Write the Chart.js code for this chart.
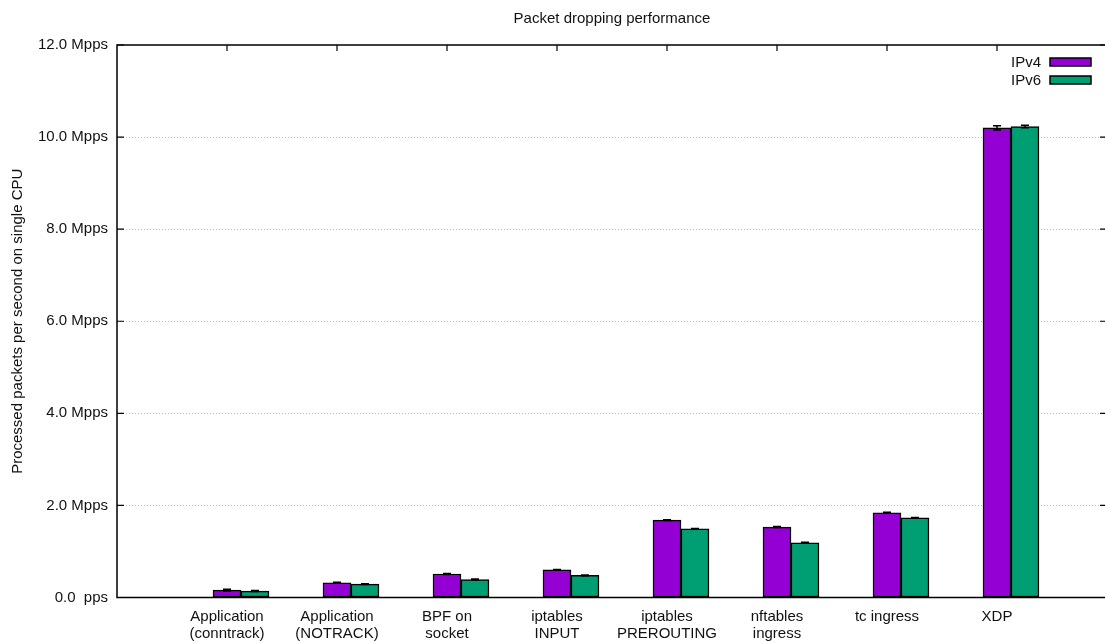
<!DOCTYPE html>
<html>
<head>
<meta charset="utf-8">
<title>Packet dropping performance</title>
<script src="https://cdn.jsdelivr.net/npm/chart.js@4.4.1/dist/chart.umd.min.js"></script>
<style>
  html, body { margin: 0; padding: 0; background: #fff; overflow: hidden; }
  #wrap { width: 1118px; height: 643px; }
</style>
</head>
<body>
<div id="wrap"><canvas id="chart" width="1118" height="643"></canvas></div>
<script>
// ---- data -------------------------------------------------------------
const categories = [
  ['Application', '(conntrack)'],
  ['Application', '(NOTRACK)'],
  ['BPF on', 'socket'],
  ['iptables', 'INPUT'],
  ['iptables', 'PREROUTING'],
  ['nftables', 'ingress'],
  ['tc ingress'],
  ['XDP']
];
const seriesNames = ['IPv4', 'IPv6'];
const ipv4Values = [0.16, 0.32, 0.51, 0.60, 1.68, 1.53, 1.84, 10.20];
const ipv6Values = [0.14, 0.29, 0.39, 0.48, 1.49, 1.19, 1.73, 10.23];
const ipv4Errors = [0.02, 0.01, 0.01, 0.01, 0.01, 0.01, 0.01, 0.045];
const ipv6Errors = [0.01, 0.01, 0.01, 0.01, 0.01, 0.01, 0.01, 0.025];
const yTickLabels = ['0.0  pps', '2.0 Mpps', '4.0 Mpps', '6.0 Mpps', '8.0 Mpps', '10.0 Mpps', '12.0 Mpps'];
const chartTitle = 'Packet dropping performance';
const yAxisTitle = 'Processed packets per second on single CPU';

// ---- style ------------------------------------------------------------
const FONT = '"Liberation Sans", Arial, sans-serif';
const TEXT = '#111';
const COLORS = ['#9400d3', '#009e73'];
const PAIR_SHIFT = 0.2543;   // second bar of a pair sits one bar width to the right
const Y_MAX = 12;
const X_MAX = categories.length + 1;

const slot = categories.map((_, i) => i + 1);
const seriesValues = [ipv4Values, ipv6Values];
const seriesErrors = [ipv4Errors, ipv6Errors];

const datasets = seriesNames.map((name, s) => ({
  label: name,
  data: slot.map((p, i) => ({ x: p + s * PAIR_SHIFT, y: seriesValues[s][i] })),
  errors: seriesErrors[s],
  backgroundColor: COLORS[s],
  borderColor: '#000',
  borderWidth: 1.5,
  borderSkipped: false,
  grouped: false,
  barPercentage: 1,
  categoryPercentage: 1
}));

// title centred over the plot area
const titlePlugin = {
  id: 'plotTitle',
  afterDraw(chart) {
    const { ctx, chartArea } = chart;
    ctx.save();
    ctx.font = '15px ' + FONT;
    ctx.fillStyle = TEXT;
    ctx.textAlign = 'center';
    ctx.textBaseline = 'middle';
    ctx.fillText(chartTitle, (chartArea.left + chartArea.right) / 2, 19);
    ctx.restore();
  }
};

// plot frame with inward tick marks
const framePlugin = {
  id: 'frame',
  afterDatasetsDraw(chart) {
    const { ctx, chartArea: a, scales } = chart;
    ctx.save();
    ctx.strokeStyle = '#000';
    ctx.lineWidth = 1.5;
    ctx.strokeRect(a.left, a.top, a.right - a.left, a.bottom - a.top);
    ctx.lineWidth = 1.2;
    ctx.beginPath();
    scales.y.ticks.forEach(t => {
      const y = scales.y.getPixelForValue(t.value);
      ctx.moveTo(a.left, y); ctx.lineTo(a.left + 7, y);
      ctx.moveTo(a.right, y); ctx.lineTo(a.right - 7, y);
    });
    slot.forEach(p => {
      const x = scales.x.getPixelForValue(p);
      ctx.moveTo(x, a.top); ctx.lineTo(x, a.top + 6);
    });
    ctx.stroke();
    ctx.restore();
  }
};

// error bars on top of every bar
const errorBarPlugin = {
  id: 'errorBars',
  afterDatasetsDraw(chart) {
    const { ctx, scales } = chart;
    ctx.save();
    ctx.strokeStyle = '#000';
    ctx.lineWidth = 1.5;
    chart.data.datasets.forEach((ds, di) => {
      const meta = chart.getDatasetMeta(di);
      meta.data.forEach((bar, i) => {
        const v = ds.data[i].y, e = ds.errors[i];
        const yHi = scales.y.getPixelForValue(v + e);
        const yLo = scales.y.getPixelForValue(v - e);
        ctx.beginPath();
        ctx.moveTo(bar.x, yHi); ctx.lineTo(bar.x, yLo);
        ctx.moveTo(bar.x - 4, yHi); ctx.lineTo(bar.x + 4, yHi);
        ctx.moveTo(bar.x - 4, yLo); ctx.lineTo(bar.x + 4, yLo);
        ctx.stroke();
      });
    });
    ctx.restore();
  }
};

// key in the top-right corner of the plot
const keyPlugin = {
  id: 'key',
  afterDraw(chart) {
    const { ctx, chartArea: a } = chart;
    ctx.save();
    ctx.font = '15px ' + FONT;
    ctx.textAlign = 'right';
    ctx.textBaseline = 'middle';
    chart.data.datasets.forEach((ds, i) => {
      const y = a.top + 17 + i * 18;
      ctx.fillStyle = TEXT;
      ctx.fillText(ds.label, a.right - 66, y + 0.5);
      ctx.fillStyle = ds.backgroundColor;
      ctx.fillRect(a.right - 57, y - 4, 41, 8);
      ctx.strokeStyle = '#000';
      ctx.lineWidth = 1.5;
      ctx.strokeRect(a.right - 57, y - 4, 41, 8);
    });
    ctx.restore();
  }
};

new Chart(document.getElementById('chart'), {
  type: 'bar',
  data: { datasets },
  options: {
    responsive: false,
    animation: false,
    devicePixelRatio: 1,
    layout: { padding: { top: 45, right: 2, left: 0, bottom: 0 } },
    plugins: {
      legend: { display: false },
      tooltip: { enabled: false },
      title: { display: false }
    },
    scales: {
      x: {
        type: 'linear',
        min: 0,
        max: X_MAX,
        offset: false,
        grid: { display: false, drawTicks: false },
        border: { display: false },
        afterFit(scale) { scale.height = 45.5; },
        ticks: {
          stepSize: 1,
          autoSkip: false,
          maxRotation: 0,
          minRotation: 0,
          padding: 11,
          color: TEXT,
          font: { family: FONT, size: 15, lineHeight: 1.13 },
          callback(value) {
            return (Number.isInteger(value) && value >= 1 && value <= categories.length)
              ? categories[value - 1] : '';
          }
        }
      },
      y: {
        min: 0,
        max: Y_MAX,
        afterFit(scale) { scale.width = 117; },
        grid: {
          drawTicks: false,
          lineWidth: 1,
          color(ctx) {
            const v = ctx.tick ? ctx.tick.value : null;
            return (v === 0 || v === Y_MAX) ? 'rgba(0,0,0,0)' : '#bdbdbd';
          }
        },
        border: { display: false, dash: [1, 2] },
        ticks: {
          stepSize: 2,
          padding: 9,
          color: TEXT,
          font: { family: FONT, size: 15 },
          callback(value, index) { return yTickLabels[index]; }
        },
        title: {
          display: true,
          text: yAxisTitle,
          color: TEXT,
          font: { family: FONT, size: 15 },
          padding: { top: 9, bottom: 0 }
        }
      }
    }
  },
  plugins: [titlePlugin, framePlugin, errorBarPlugin, keyPlugin]
});
</script>
</body>
</html>
